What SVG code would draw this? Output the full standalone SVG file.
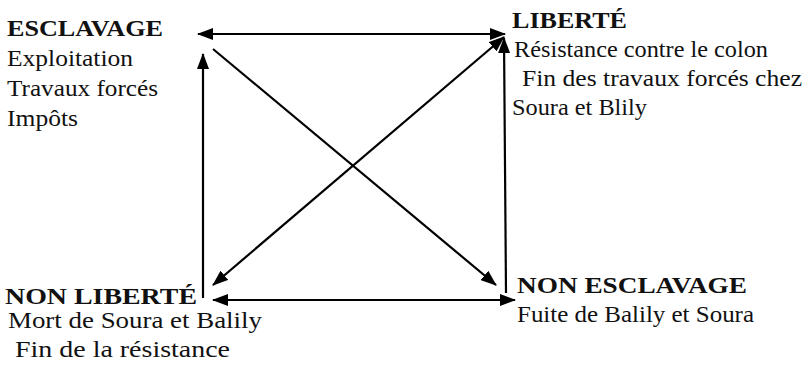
<svg xmlns="http://www.w3.org/2000/svg" width="805" height="371" viewBox="0 0 805 371">
<style>
.t{font-family:'Liberation Serif',serif;font-size:24px;fill:#111}
.h{font-weight:bold}
</style>
<defs>
<marker id="ah" markerUnits="userSpaceOnUse" markerWidth="16" markerHeight="12" refX="15" refY="6" orient="auto-start-reverse" viewBox="0 0 16 12">
<path d="M0,0 L16,6 L0,12 Z" fill="#000"/>
</marker>
</defs>
<rect width="805" height="371" fill="#fff"/>
<g id="connectors" stroke="#000" stroke-width="2.2" fill="none">
<line x1="198" y1="34" x2="505" y2="34" marker-start="url(#ah)" marker-end="url(#ah)"/>
<line x1="203" y1="298" x2="203" y2="54" marker-end="url(#ah)"/>
<line x1="506" y1="293" x2="504" y2="38" marker-end="url(#ah)"/>
<line x1="213" y1="300" x2="515" y2="300" marker-start="url(#ah)" marker-end="url(#ah)"/>
<line x1="213" y1="49" x2="496" y2="285" marker-end="url(#ah)"/>
<line x1="213" y1="285" x2="504" y2="37" marker-start="url(#ah)" marker-end="url(#ah)"/>
</g>
<g id="esclavage" class="t">
<text class="h" x="7" y="36" textLength="156" lengthAdjust="spacingAndGlyphs">ESCLAVAGE</text>
<text x="7" y="66" textLength="126" lengthAdjust="spacingAndGlyphs">Exploitation</text>
<text x="7" y="96" textLength="151" lengthAdjust="spacingAndGlyphs">Travaux forcés</text>
<text x="7" y="126" textLength="71" lengthAdjust="spacingAndGlyphs">Impôts</text>
</g>
<g id="liberte" class="t">
<text class="h" x="512" y="28" textLength="115" lengthAdjust="spacingAndGlyphs">LIBERTÉ</text>
<text x="514" y="57" textLength="254" lengthAdjust="spacingAndGlyphs">Résistance contre le colon</text>
<text x="522" y="86" textLength="280" lengthAdjust="spacingAndGlyphs">Fin des travaux forcés chez</text>
<text x="512" y="115" textLength="135" lengthAdjust="spacingAndGlyphs">Soura et Blily</text>
</g>
<g id="non-liberte" class="t">
<text class="h" x="5" y="304" textLength="192" lengthAdjust="spacingAndGlyphs">NON LIBERTÉ</text>
<text x="8" y="328" textLength="254" lengthAdjust="spacingAndGlyphs">Mort de Soura et Balily</text>
<text x="15" y="357" textLength="215" lengthAdjust="spacingAndGlyphs">Fin de la résistance</text>
</g>
<g id="non-esclavage" class="t">
<text class="h" x="517" y="293" textLength="230" lengthAdjust="spacingAndGlyphs">NON ESCLAVAGE</text>
<text x="517" y="322" textLength="237" lengthAdjust="spacingAndGlyphs">Fuite de Balily et Soura</text>
</g>
</svg>
